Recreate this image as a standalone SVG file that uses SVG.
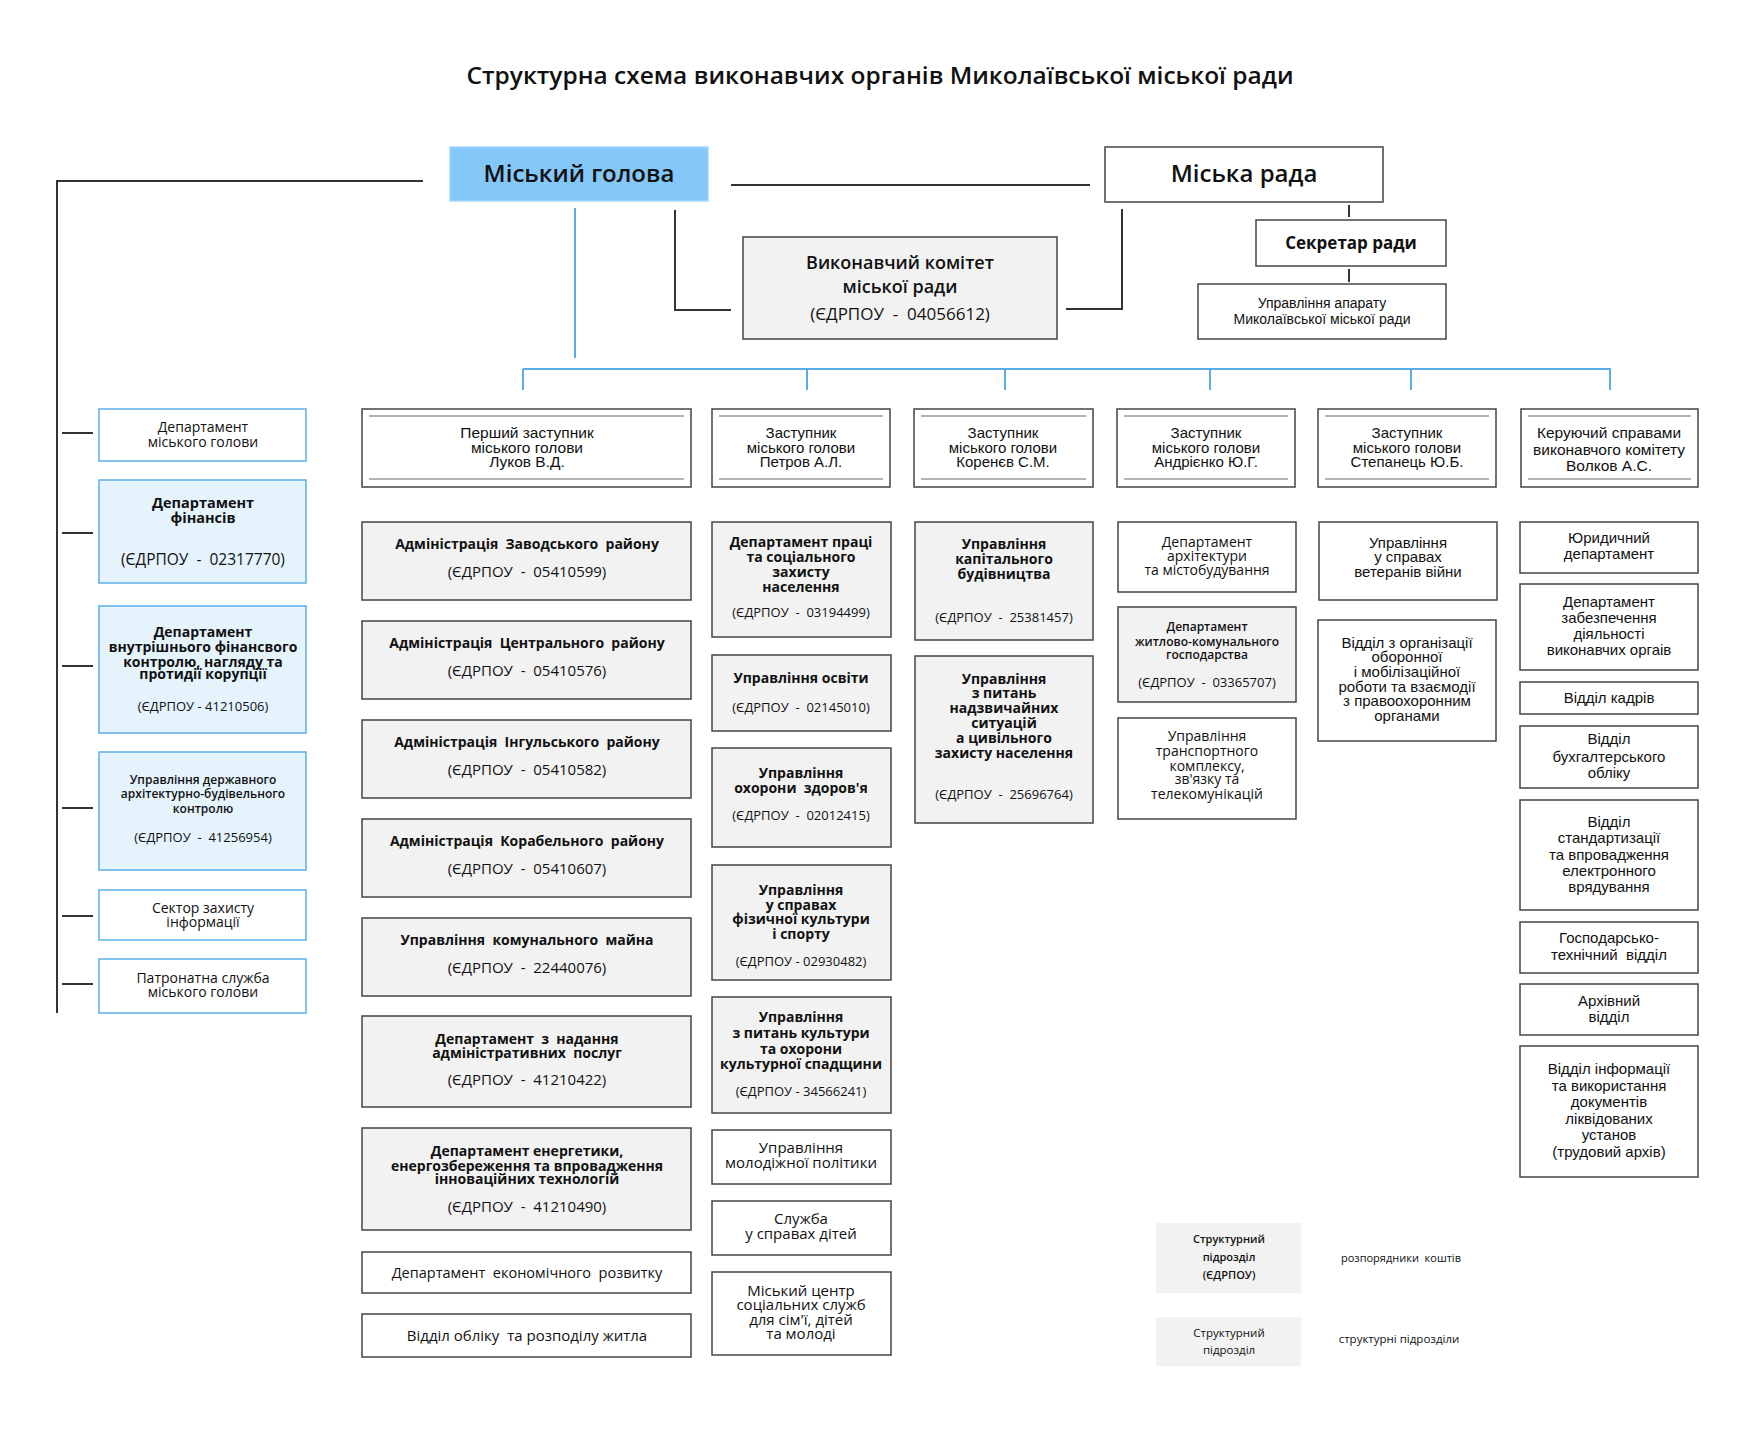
<svg xmlns="http://www.w3.org/2000/svg" width="1755" height="1444" viewBox="0 0 1755 1444">
<style>
.g{fill:#f2f2f2;stroke:#444;stroke-width:1.5}
.w{fill:#fff;stroke:#444;stroke-width:1.5}
.lb{fill:#fff;stroke:#5aaee8;stroke-width:1.5}
.lbf{fill:#e5f3fd;stroke:#5aaee8;stroke-width:1.5}
.il{stroke:#9a9a9a;stroke-width:1.5}
.dk{stroke:#333;stroke-width:2;fill:none}
.bl{stroke:#5aaee8;stroke-width:2;fill:none}
text{fill:#111;text-anchor:middle}
.os{font-family:"Open Sans","DejaVu Sans",sans-serif}
.ar{font-family:"Liberation Sans",Arial,sans-serif}
.b{font-weight:700}
.sb{font-weight:600}
.leg{fill:#f2f2f2;stroke:none}
</style>
<rect width="1755" height="1444" fill="#fff"/>
<text class="os sb" x="880" y="84" font-size="23" textLength="827" lengthAdjust="spacingAndGlyphs">Структурна схема виконавчих органів Миколаївської міської ради</text>
<g id="connectors">
<polyline class="dk" points="423,181 57,181 57,1013"/>
<line class="dk" x1="62" y1="433" x2="93" y2="433"/>
<line class="dk" x1="62" y1="533" x2="93" y2="533"/>
<line class="dk" x1="62" y1="666" x2="93" y2="666"/>
<line class="dk" x1="62" y1="808" x2="93" y2="808"/>
<line class="dk" x1="62" y1="916" x2="93" y2="916"/>
<line class="dk" x1="62" y1="984" x2="93" y2="984"/>
<line class="dk" x1="731" y1="185" x2="1090" y2="185"/>
<polyline class="dk" points="675,210 675,310 731,310" stroke-width="1.5"/>
<polyline class="dk" points="1122,209 1122,309 1066,309" stroke-width="1.5"/>
<line class="dk" x1="1349" y1="205" x2="1349" y2="217" stroke-width="1.5"/>
<line class="dk" x1="1349" y1="269" x2="1349" y2="282" stroke-width="1.5"/>
<line class="bl" x1="575" y1="208" x2="575" y2="358"/>
<line class="bl" x1="523" y1="369" x2="1611" y2="369"/>
<line class="bl" x1="523" y1="369" x2="523" y2="390"/>
<line class="bl" x1="807" y1="369" x2="807" y2="390"/>
<line class="bl" x1="1005" y1="369" x2="1005" y2="390"/>
<line class="bl" x1="1210" y1="369" x2="1210" y2="390"/>
<line class="bl" x1="1411" y1="369" x2="1411" y2="390"/>
<line class="bl" x1="1610" y1="369" x2="1610" y2="390"/>
</g>
<g id="n-holova">
<rect x="450" y="147" width="258" height="54" fill="#84c7f9" stroke="#a6d6fb" stroke-width="1.5"/>
<text class="os sb" x="579" y="182" font-size="24">Міський голова</text>
</g>
<g id="n-rada">
<rect class="w" x="1105" y="147" width="278" height="55"/>
<text class="os sb" x="1244" y="182" font-size="24">Міська рада</text>
</g>
<g id="n-vykonkom">
<rect class="g" x="743" y="237" width="314" height="102"/>
<text class="os sb" x="900" y="269" font-size="18">Виконавчий комітет</text>
<text class="os sb" x="900" y="293" font-size="18">міської ради</text>
<text class="os" x="900" y="320" font-size="17">(ЄДРПОУ &#160;- &#160;04056612)</text>
</g>
<g id="n-sekretar">
<rect class="w" x="1256" y="220" width="190" height="46"/>
<text class="os b" x="1351" y="249" font-size="17">Секретар ради</text>
</g>
<g id="n-aparat">
<rect class="w" x="1198" y="284" width="248" height="55"/>
<text class="ar" x="1322" y="308" font-size="14">Управління апарату</text>
<text class="ar" x="1322" y="324" font-size="14">Миколаївської міської ради</text>
</g>
<g id="d1">
<rect class="w" x="362" y="409" width="329" height="78"/>
<line class="il" x1="369" y1="416" x2="684" y2="416"/><line class="il" x1="369" y1="479" x2="684" y2="479"/>
<text class="ar" x="527" y="438" font-size="15.5">Перший заступник</text>
<text class="ar" x="527" y="453" font-size="15.5">міського голови</text>
<text class="ar" x="527" y="467" font-size="15.5">Луков В.Д.</text>
</g>
<g id="d2">
<rect class="w" x="712" y="409" width="178" height="78"/>
<line class="il" x1="719" y1="416" x2="883" y2="416"/><line class="il" x1="719" y1="479" x2="883" y2="479"/>
<text class="ar" x="801" y="438" font-size="15">Заступник</text>
<text class="ar" x="801" y="453" font-size="15">міського голови</text>
<text class="ar" x="801" y="467" font-size="15">Петров А.Л.</text>
</g>
<g id="d3">
<rect class="w" x="914" y="409" width="179" height="78"/>
<line class="il" x1="921" y1="416" x2="1086" y2="416"/><line class="il" x1="921" y1="479" x2="1086" y2="479"/>
<text class="ar" x="1003" y="438" font-size="15">Заступник</text>
<text class="ar" x="1003" y="453" font-size="15">міського голови</text>
<text class="ar" x="1003" y="467" font-size="15">Коренєв С.М.</text>
</g>
<g id="d4">
<rect class="w" x="1117" y="409" width="178" height="78"/>
<line class="il" x1="1124" y1="416" x2="1288" y2="416"/><line class="il" x1="1124" y1="479" x2="1288" y2="479"/>
<text class="ar" x="1206" y="438" font-size="15">Заступник</text>
<text class="ar" x="1206" y="453" font-size="15">міського голови</text>
<text class="ar" x="1206" y="467" font-size="15">Андрієнко Ю.Г.</text>
</g>
<g id="d5">
<rect class="w" x="1318" y="409" width="178" height="78"/>
<line class="il" x1="1325" y1="416" x2="1489" y2="416"/><line class="il" x1="1325" y1="479" x2="1489" y2="479"/>
<text class="ar" x="1407" y="438" font-size="15">Заступник</text>
<text class="ar" x="1407" y="453" font-size="15">міського голови</text>
<text class="ar" x="1407" y="467" font-size="15">Степанець Ю.Б.</text>
</g>
<g id="d6">
<rect class="w" x="1521" y="409" width="177" height="78"/>
<line class="il" x1="1528" y1="416" x2="1691" y2="416"/><line class="il" x1="1528" y1="479" x2="1691" y2="479"/>
<text class="ar" x="1609" y="438" font-size="15.5">Керуючий справами</text>
<text class="ar" x="1609" y="455" font-size="15.5">виконавчого комітету</text>
<text class="ar" x="1609" y="471" font-size="15.5">Волков А.С.</text>
</g>
<g id="l1">
<rect class="lb" x="99" y="409" width="207" height="52"/>
<text class="os" x="203" y="432" font-size="14">Департамент</text>
<text class="os" x="203" y="447" font-size="14">міського голови</text>
</g>
<g id="l2">
<rect class="lbf" x="99" y="480" width="207" height="103"/>
<text class="os b" x="203" y="508" font-size="14.5">Департамент</text>
<text class="os b" x="203" y="523" font-size="14.5">фінансів</text>
<text class="os" x="203" y="565" font-size="15.5">(ЄДРПОУ &#160;- &#160;02317770)</text>
</g>
<g id="l3">
<rect class="lbf" x="99" y="606" width="207" height="127"/>
<text class="os b" x="203" y="637" font-size="14">Департамент</text>
<text class="os b" x="203" y="652" font-size="14">внутрішнього фінансвого</text>
<text class="os b" x="203" y="667" font-size="14">контролю, нагляду та</text>
<text class="os b" x="203" y="679" font-size="14">протидії корупції</text>
<text class="os" x="203" y="711" font-size="13">(ЄДРПОУ - 41210506)</text>
</g>
<g id="l4">
<rect class="lbf" x="99" y="752" width="207" height="118"/>
<text class="os sb" x="203" y="784" font-size="12">Управління державного</text>
<text class="os sb" x="203" y="798" font-size="12">архітектурно-будівельного</text>
<text class="os sb" x="203" y="813" font-size="12">контролю</text>
<text class="os" x="203" y="842" font-size="13">(ЄДРПОУ &#160;- &#160;41256954)</text>
</g>
<g id="l5">
<rect class="lb" x="99" y="890" width="207" height="50"/>
<text class="os" x="203" y="913" font-size="14">Сектор захисту</text>
<text class="os" x="203" y="927" font-size="14">інформації</text>
</g>
<g id="l6">
<rect class="lb" x="99" y="959" width="207" height="54"/>
<text class="os" x="203" y="983" font-size="14">Патронатна служба</text>
<text class="os" x="203" y="997" font-size="14">міського голови</text>
</g>
<g id="c1-1">
<rect class="g" x="362" y="522" width="329" height="78"/>
<text class="os b" x="527" y="549" font-size="14">Адміністрація &#160;Заводського &#160;району</text>
<text class="os" x="527" y="577" font-size="15">(ЄДРПОУ &#160;- &#160;05410599)</text>
</g>
<g id="c1-2">
<rect class="g" x="362" y="621" width="329" height="78"/>
<text class="os b" x="527" y="648" font-size="14">Адміністрація &#160;Центрального &#160;району</text>
<text class="os" x="527" y="676" font-size="15">(ЄДРПОУ &#160;- &#160;05410576)</text>
</g>
<g id="c1-3">
<rect class="g" x="362" y="720" width="329" height="78"/>
<text class="os b" x="527" y="747" font-size="14">Адміністрація &#160;Інгульського &#160;району</text>
<text class="os" x="527" y="775" font-size="15">(ЄДРПОУ &#160;- &#160;05410582)</text>
</g>
<g id="c1-4">
<rect class="g" x="362" y="819" width="329" height="78"/>
<text class="os b" x="527" y="846" font-size="14">Адміністрація &#160;Корабельного &#160;району</text>
<text class="os" x="527" y="874" font-size="15">(ЄДРПОУ &#160;- &#160;05410607)</text>
</g>
<g id="c1-5">
<rect class="g" x="362" y="918" width="329" height="78"/>
<text class="os b" x="527" y="945" font-size="14">Управління &#160;комунального &#160;майна</text>
<text class="os" x="527" y="973" font-size="15">(ЄДРПОУ &#160;- &#160;22440076)</text>
</g>
<g id="c1-6">
<rect class="g" x="362" y="1016" width="329" height="91"/>
<text class="os b" x="527" y="1044" font-size="14">Департамент &#160;з &#160;надання</text>
<text class="os b" x="527" y="1058" font-size="14">адміністративних &#160;послуг</text>
<text class="os" x="527" y="1085" font-size="15">(ЄДРПОУ &#160;- &#160;41210422)</text>
</g>
<g id="c1-7">
<rect class="g" x="362" y="1128" width="329" height="102"/>
<text class="os b" x="527" y="1156" font-size="14">Департамент енергетики,</text>
<text class="os b" x="527" y="1171" font-size="14">енергозбереження та впровадження</text>
<text class="os b" x="527" y="1184" font-size="14">інноваційних технологій</text>
<text class="os" x="527" y="1212" font-size="15">(ЄДРПОУ &#160;- &#160;41210490)</text>
</g>
<g id="c1-8">
<rect class="w" x="362" y="1252" width="329" height="41"/>
<text class="os" x="527" y="1278" font-size="14.5">Департамент &#160;економічного &#160;розвитку</text>
</g>
<g id="c1-9">
<rect class="w" x="362" y="1314" width="329" height="43"/>
<text class="os" x="527" y="1341" font-size="15">Відділ обліку &#160;та розподілу житла</text>
</g>
<g id="c2-1">
<rect class="g" x="712" y="522" width="179" height="115"/>
<text class="os b" x="801" y="547" font-size="14">Департамент праці</text>
<text class="os b" x="801" y="562" font-size="14">та соціального</text>
<text class="os b" x="801" y="577" font-size="14">захисту</text>
<text class="os b" x="801" y="592" font-size="14">населення</text>
<text class="os" x="801" y="617" font-size="13">(ЄДРПОУ &#160;- &#160;03194499)</text>
</g>
<g id="c2-2">
<rect class="g" x="712" y="655" width="179" height="76"/>
<text class="os b" x="801" y="683" font-size="14">Управління освіти</text>
<text class="os" x="801" y="712" font-size="13">(ЄДРПОУ &#160;- &#160;02145010)</text>
</g>
<g id="c2-3">
<rect class="g" x="712" y="748" width="179" height="99"/>
<text class="os b" x="801" y="778" font-size="14">Управління</text>
<text class="os b" x="801" y="793" font-size="14">охорони &#160;здоров'я</text>
<text class="os" x="801" y="820" font-size="13">(ЄДРПОУ &#160;- &#160;02012415)</text>
</g>
<g id="c2-4">
<rect class="g" x="712" y="865" width="179" height="115"/>
<text class="os b" x="801" y="895" font-size="14">Управління</text>
<text class="os b" x="801" y="910" font-size="14">у справах</text>
<text class="os b" x="801" y="924" font-size="14">фізичної культури</text>
<text class="os b" x="801" y="939" font-size="14">і спорту</text>
<text class="os" x="801" y="966" font-size="13">(ЄДРПОУ - 02930482)</text>
</g>
<g id="c2-5">
<rect class="g" x="712" y="997" width="179" height="116"/>
<text class="os b" x="801" y="1022" font-size="14">Управління</text>
<text class="os b" x="801" y="1038" font-size="14">з питань культури</text>
<text class="os b" x="801" y="1054" font-size="14">та охорони</text>
<text class="os b" x="801" y="1069" font-size="14">культурної спадщини</text>
<text class="os" x="801" y="1096" font-size="13">(ЄДРПОУ - 34566241)</text>
</g>
<g id="c2-6">
<rect class="w" x="712" y="1130" width="179" height="54"/>
<text class="os" x="801" y="1153" font-size="15">Управління</text>
<text class="os" x="801" y="1168" font-size="15">молодіжної політики</text>
</g>
<g id="c2-7">
<rect class="w" x="712" y="1201" width="179" height="54"/>
<text class="os" x="801" y="1224" font-size="15">Служба</text>
<text class="os" x="801" y="1239" font-size="15">у справах дітей</text>
</g>
<g id="c2-8">
<rect class="w" x="712" y="1272" width="179" height="83"/>
<text class="os" x="801" y="1296" font-size="15">Міський центр</text>
<text class="os" x="801" y="1310" font-size="15">соціальних служб</text>
<text class="os" x="801" y="1325" font-size="15">для сім'ї, дітей</text>
<text class="os" x="801" y="1339" font-size="15">та молоді</text>
</g>
<g id="c3-1">
<rect class="g" x="915" y="522" width="178" height="118"/>
<text class="os b" x="1004" y="549" font-size="14">Управління</text>
<text class="os b" x="1004" y="564" font-size="14">капітального</text>
<text class="os b" x="1004" y="579" font-size="14">будівництва</text>
<text class="os" x="1004" y="622" font-size="13">(ЄДРПОУ &#160;- &#160;25381457)</text>
</g>
<g id="c3-2">
<rect class="g" x="915" y="656" width="178" height="167"/>
<text class="os b" x="1004" y="684" font-size="14">Управління</text>
<text class="os b" x="1004" y="698" font-size="14">з питань</text>
<text class="os b" x="1004" y="713" font-size="14">надзвичайних</text>
<text class="os b" x="1004" y="728" font-size="14">ситуацій</text>
<text class="os b" x="1004" y="743" font-size="14">а цивільного</text>
<text class="os b" x="1004" y="758" font-size="14">захисту населення</text>
<text class="os" x="1004" y="799" font-size="13">(ЄДРПОУ &#160;- &#160;25696764)</text>
</g>
<g id="c4-1">
<rect class="w" x="1118" y="522" width="178" height="70"/>
<text class="os" x="1207" y="547" font-size="14">Департамент</text>
<text class="os" x="1207" y="561" font-size="14">архітектури</text>
<text class="os" x="1207" y="575" font-size="14">та містобудування</text>
</g>
<g id="c4-2">
<rect class="g" x="1118" y="607" width="178" height="95"/>
<text class="os sb" x="1207" y="631" font-size="12">Департамент</text>
<text class="os sb" x="1207" y="646" font-size="12">житлово-комунального</text>
<text class="os sb" x="1207" y="659" font-size="12">господарства</text>
<text class="os" x="1207" y="687" font-size="13">(ЄДРПОУ &#160;- &#160;03365707)</text>
</g>
<g id="c4-3">
<rect class="w" x="1118" y="718" width="178" height="101"/>
<text class="os" x="1207" y="741" font-size="14">Управління</text>
<text class="os" x="1207" y="756" font-size="14">транспортного</text>
<text class="os" x="1207" y="771" font-size="14">комплексу,</text>
<text class="os" x="1207" y="784" font-size="14">зв'язку та</text>
<text class="os" x="1207" y="799" font-size="14">телекомунікацій</text>
</g>
<g id="c5-1">
<rect class="w" x="1319" y="522" width="178" height="78"/>
<text class="ar" x="1408" y="548" font-size="15">Управління</text>
<text class="ar" x="1408" y="562" font-size="15">у справах</text>
<text class="ar" x="1408" y="577" font-size="15">ветеранів війни</text>
</g>
<g id="c5-2">
<rect class="w" x="1318" y="620" width="178" height="121"/>
<text class="ar" x="1407" y="648" font-size="15">Відділ з організації</text>
<text class="ar" x="1407" y="662" font-size="15">оборонної</text>
<text class="ar" x="1407" y="677" font-size="15">і мобілізаційної</text>
<text class="ar" x="1407" y="692" font-size="15">роботи та взаємодії</text>
<text class="ar" x="1407" y="706" font-size="15">з правоохоронним</text>
<text class="ar" x="1407" y="721" font-size="15">органами</text>
</g>
<g id="c6-1">
<rect class="w" x="1520" y="522" width="178" height="51"/>
<text class="ar" x="1609" y="543" font-size="15">Юридичний</text>
<text class="ar" x="1609" y="559" font-size="15">департамент</text>
</g>
<g id="c6-2">
<rect class="w" x="1520" y="584" width="178" height="86"/>
<text class="ar" x="1609" y="607" font-size="15">Департамент</text>
<text class="ar" x="1609" y="623" font-size="15">забезпечення</text>
<text class="ar" x="1609" y="639" font-size="15">діяльності</text>
<text class="ar" x="1609" y="655" font-size="15">виконавчих оргаів</text>
</g>
<g id="c6-3">
<rect class="w" x="1520" y="682" width="178" height="32"/>
<text class="ar" x="1609" y="703" font-size="15">Відділ кадрів</text>
</g>
<g id="c6-4">
<rect class="w" x="1520" y="726" width="178" height="62"/>
<text class="ar" x="1609" y="744" font-size="15">Відділ</text>
<text class="ar" x="1609" y="762" font-size="15">бухгалтерського</text>
<text class="ar" x="1609" y="778" font-size="15">обліку</text>
</g>
<g id="c6-5">
<rect class="w" x="1520" y="800" width="178" height="110"/>
<text class="ar" x="1609" y="827" font-size="15">Відділ</text>
<text class="ar" x="1609" y="843" font-size="15">стандартизації</text>
<text class="ar" x="1609" y="860" font-size="15">та впровадження</text>
<text class="ar" x="1609" y="876" font-size="15">електронного</text>
<text class="ar" x="1609" y="892" font-size="15">врядування</text>
</g>
<g id="c6-6">
<rect class="w" x="1520" y="922" width="178" height="51"/>
<text class="ar" x="1609" y="943" font-size="15">Господарсько-</text>
<text class="ar" x="1609" y="960" font-size="15">технічний &#160;відділ</text>
</g>
<g id="c6-7">
<rect class="w" x="1520" y="984" width="178" height="51"/>
<text class="ar" x="1609" y="1006" font-size="15">Архівний</text>
<text class="ar" x="1609" y="1022" font-size="15">відділ</text>
</g>
<g id="c6-8">
<rect class="w" x="1520" y="1046" width="178" height="131"/>
<text class="ar" x="1609" y="1074" font-size="15">Відділ інформації</text>
<text class="ar" x="1609" y="1091" font-size="15">та використання</text>
<text class="ar" x="1609" y="1107" font-size="15">документів</text>
<text class="ar" x="1609" y="1124" font-size="15">ліквідованих</text>
<text class="ar" x="1609" y="1140" font-size="15">установ</text>
<text class="ar" x="1609" y="1157" font-size="15">(трудовий архів)</text>
</g>
<g id="legend-1">
<rect class="leg" x="1156" y="1223" width="145" height="70"/>
<text class="os sb" x="1229" y="1243" font-size="11">Структурний</text>
<text class="os sb" x="1229" y="1261" font-size="11">підрозділ</text>
<text class="os sb" x="1229" y="1279" font-size="11">(ЄДРПОУ)</text>
<text class="os" x="1401" y="1262" font-size="11">розпорядники &#160;коштів</text>
</g>
<g id="legend-2">
<rect class="leg" x="1156" y="1317" width="145" height="49"/>
<text class="os" x="1229" y="1337" font-size="11.5">Структурний</text>
<text class="os" x="1229" y="1354" font-size="11.5">підрозділ</text>
<text class="os" x="1399" y="1343" font-size="11.5">структурні підрозділи</text>
</g>
</svg>
